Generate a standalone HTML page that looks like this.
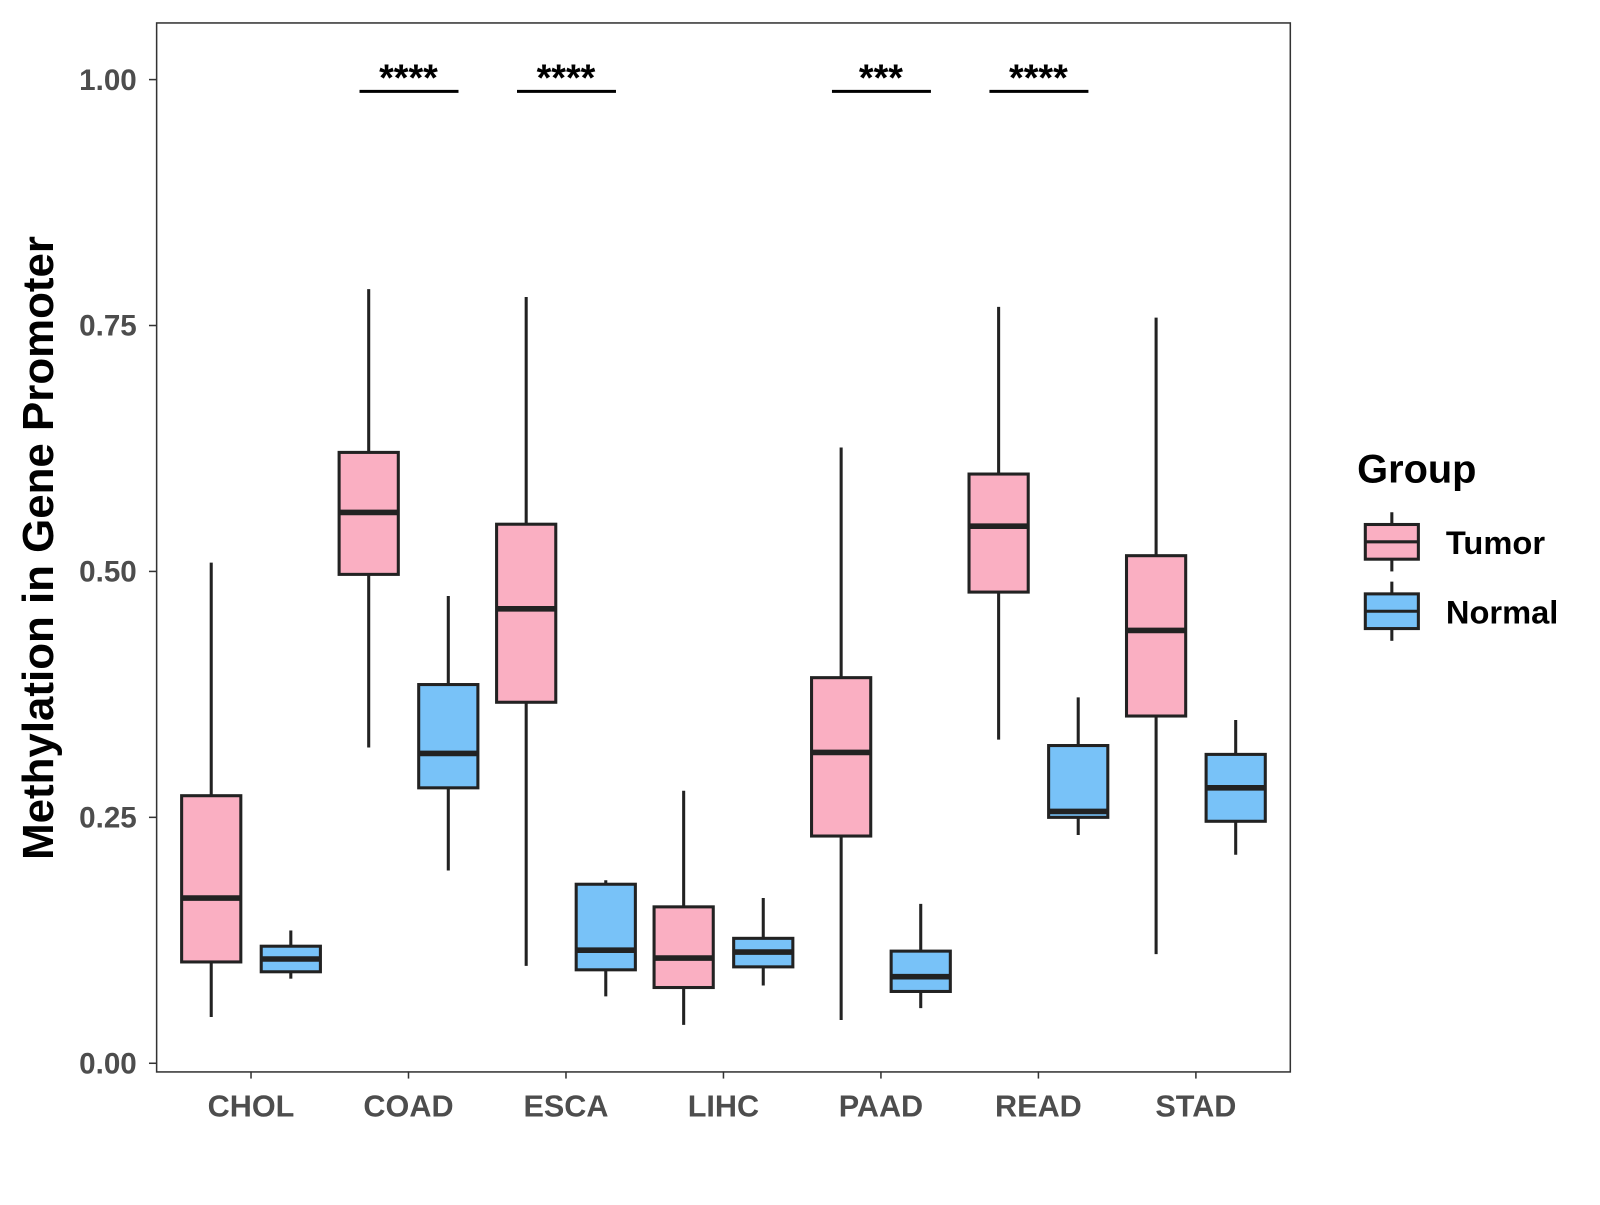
<!DOCTYPE html>
<html><head><meta charset="utf-8"><style>
body{margin:0;background:#fff}
svg text{font-family:"Liberation Sans",Arial,sans-serif;font-weight:bold}
</style></head><body>
<svg id="chart" width="1600" height="1200" viewBox="0 0 1568 1176" xmlns="http://www.w3.org/2000/svg">
<rect x="0" y="0" width="1568" height="1176" fill="#fff"/>
<rect x="153.5" y="22.5" width="1111" height="1028" fill="none" stroke="#333" stroke-width="1.5"/>
<g id="axes"></g><g id="boxes"></g><g id="sig"></g>
<text transform="translate(52,537) rotate(-90)" text-anchor="middle" font-size="43" fill="#000">Methylation in Gene Promoter</text>
<g>
<text x="1330" y="473" font-size="39" fill="#000">Group</text>
<g>
<line x1="1364" y1="502" x2="1364" y2="560" stroke="#222" stroke-width="3"/>
<rect x="1338" y="514" width="52" height="34" fill="#FAAFC2" stroke="#222" stroke-width="3"/>
<line x1="1338" y1="531" x2="1390" y2="531" stroke="#222" stroke-width="3"/>
<text x="1417" y="543" font-size="32" fill="#000">Tumor</text></g>
<g>
<line x1="1364" y1="570" x2="1364" y2="628" stroke="#222" stroke-width="3"/>
<rect x="1338" y="582" width="52" height="34" fill="#78C2F8" stroke="#222" stroke-width="3"/>
<line x1="1338" y1="599" x2="1390" y2="599" stroke="#222" stroke-width="3"/>
<text x="1417" y="611" font-size="32" fill="#000">Normal</text></g>
</g>
</svg>
<script>
const categories=["CHOL","COAD","ESCA","LIHC","PAAD","READ","STAD"];
// [low, q1, median, q3, high]
const tumorStats=[[0.047,0.103,0.168,0.272,0.509],[0.321,0.497,0.560,0.621,0.787],[0.099,0.367,0.462,0.548,0.779],[0.039,0.077,0.107,0.159,0.277],[0.044,0.231,0.316,0.392,0.626],[0.329,0.479,0.546,0.599,0.769],[0.111,0.353,0.440,0.516,0.758]];
const normalStats=[[0.086,0.093,0.106,0.119,0.135],[0.196,0.280,0.315,0.385,0.475],[0.068,0.095,0.115,0.182,0.186],[0.079,0.098,0.113,0.127,0.168],[0.056,0.073,0.088,0.114,0.162],[0.232,0.250,0.256,0.323,0.372],[0.212,0.246,0.280,0.314,0.349]];
const yTicks=[0,0.25,0.5,0.75,1.0];
const yTickLabels=["0.00","0.25","0.50","0.75","1.00"];
const sigLabels=["","****","****","","***","****",""];
const sigY=0.988;

const NS="http://www.w3.org/2000/svg";
const y=v=>1042-v*964;
const x=i=>246+i*154.33;
function mk(tag,attrs,parent,text){const e=document.createElementNS(NS,tag);for(const k in attrs)e.setAttribute(k,attrs[k]);if(text!==undefined)e.textContent=text;parent.appendChild(e);return e;}
const axes=document.getElementById('axes'),boxes=document.getElementById('boxes'),sig=document.getElementById('sig');
yTicks.forEach((t,i)=>{
 const l=mk('line',{x1:146,x2:153,y1:y(t),y2:y(t),stroke:'#333','stroke-width':1.5},axes);
 
 
 const tx=mk('text',{x:134,y:y(t)+10,'text-anchor':'end','font-size':29,fill:'#4d4d4d'},axes,yTickLabels[i]);
 
 
});
categories.forEach((c,i)=>{
 const l=mk('line',{x1:x(i),x2:x(i),y1:1050,y2:1057,stroke:'#333','stroke-width':1.5},axes);
 
 
 const tx=mk('text',{x:x(i),y:1094,'text-anchor':'middle','font-size':30,fill:'#4d4d4d'},axes,c);
 
 
 [[tumorStats[i],-39,'#FAAFC2','tumor'],[normalStats[i],39,'#78C2F8','normal']].forEach(([s,off,fill,nm])=>{
  const cx=x(i)+off;
  const g=mk('g',{},boxes);
  
  
  mk('line',{x1:cx,x2:cx,y1:y(s[4]),y2:y(s[0]),stroke:'#222','stroke-width':3},g);
  mk('rect',{x:cx-29,y:y(s[3]),width:58,height:y(s[1])-y(s[3]),fill:fill,stroke:'#222','stroke-width':3},g);
  mk('line',{x1:cx-29,x2:cx+29,y1:y(s[2]),y2:y(s[2]),stroke:'#222','stroke-width':5.5},g);
 });
 if(sigLabels[i]){
  const g=mk('g',{},sig);
  
  
  mk('line',{x1:x(i)-48,x2:x(i)+49,y1:y(sigY),y2:y(sigY),stroke:'#000','stroke-width':3},g);
  mk('text',{x:x(i),y:y(sigY)-1,'text-anchor':'middle','font-size':37,fill:'#000'},g,sigLabels[i]);
 }
});
</script>
</body></html>
